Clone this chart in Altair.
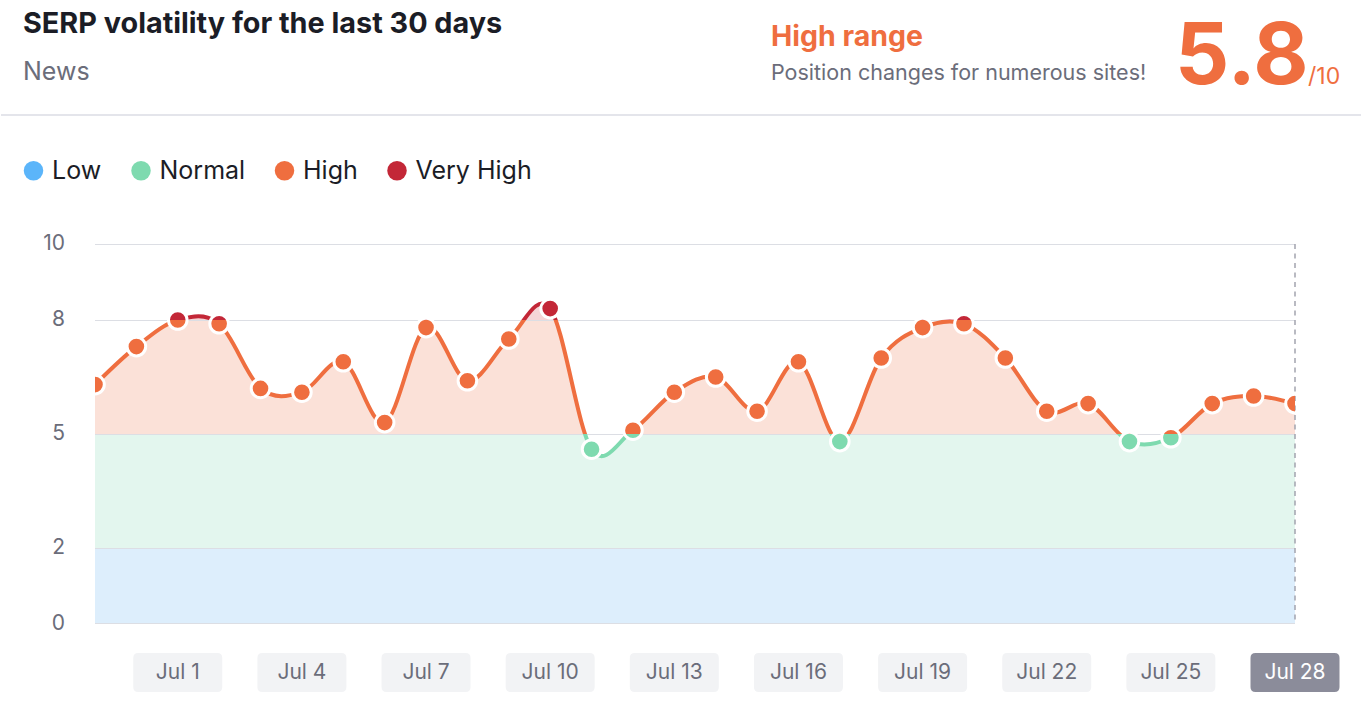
import altair as alt
import pandas as pd

# ---------------- data ----------------
days = ["Jun 29", "Jun 30", "Jul 1", "Jul 2", "Jul 3", "Jul 4", "Jul 5", "Jul 6",
        "Jul 7", "Jul 8", "Jul 9", "Jul 10", "Jul 11", "Jul 12", "Jul 13", "Jul 14",
        "Jul 15", "Jul 16", "Jul 17", "Jul 18", "Jul 19", "Jul 20", "Jul 21", "Jul 22",
        "Jul 23", "Jul 24", "Jul 25", "Jul 26", "Jul 27", "Jul 28"]
values = [6.3, 7.3, 8.0, 7.9, 6.2, 6.1, 6.9, 5.3, 7.8, 6.4, 7.5, 8.3, 4.6, 5.1, 6.1,
          6.5, 5.6, 6.9, 4.8, 7.0, 7.8, 7.9, 7.0, 5.6, 5.8, 4.8, 4.9, 5.8, 6.0, 5.8]
tick_labels = ["Jul 1", "Jul 4", "Jul 7", "Jul 10", "Jul 13", "Jul 16", "Jul 19",
               "Jul 22", "Jul 25", "Jul 28"]
legend_cats = ["Low", "Normal", "High", "Very High"]
legend_colors = ["#5BB5FA", "#7EDAAF", "#EF6E3F", "#C32737"]
band_fills = ["#DDEEFC", "#E3F6EE", "#FBE1D8", "#F5D5D7"]
band_limits = [0, 2, 5, 8, 10]

title_text = "SERP volatility for the last 30 days"
subtitle_text = "News"
range_text = "High range"
range_desc = "Position changes for numerous sites!"
score_text = "5.8"
score_max = "/10"

# ---------------- styles ----------------
FONT = "Inter"
U = 38          # pixels per unit on the y axis
W = 1200        # plot width
GRID = "#DCDEE4"
AXIS_TXT = "#6B6D7A"
DARK = "#1B1D26"

df = pd.DataFrame({"day": days, "idx": list(range(len(days))), "value": values})
last_idx = len(days) - 1

xscale = alt.Scale(domain=[0, last_idx], nice=False, zero=False)
xenc = alt.X("idx:Q", scale=xscale, axis=None)


def band_panel(k):
    lo, hi = band_limits[k], band_limits[k + 1]
    line_color = legend_colors[k]
    fill_color = band_fills[k]
    yscale = alt.Scale(domain=[lo, hi], nice=False, zero=False)
    yenc = alt.Y("value:Q", scale=yscale, axis=None)
    base = alt.Chart(df)

    area = base.mark_area(interpolate="cardinal", color=fill_color, opacity=1,
                          clip=True).encode(x=xenc, y=yenc)

    gvals = [hi, lo] if k == 0 else [hi]
    gdf = pd.DataFrame({"v": gvals})
    grid = alt.Chart(gdf).mark_rule(color=GRID, strokeWidth=2, clip=True).encode(
        y=alt.Y("v:Q", scale=yscale, axis=None))

    lab = alt.Chart(gdf).mark_text(align="right", baseline="middle", fontSize=21,
                                   font=FONT, color=AXIS_TXT).encode(
        x=alt.value(-30), y=alt.Y("v:Q", scale=yscale, axis=None), text=alt.Text("v:Q"))

    cur = df.tail(1)
    dash = alt.Chart(cur).mark_rule(color="#A3A4AE", strokeWidth=1.5,
                                    strokeDash=[5, 4.5]).encode(x=xenc)

    line = base.mark_line(interpolate="cardinal", color=line_color, strokeWidth=4,
                          strokeCap="round", clip=True).encode(x=xenc, y=yenc)
    pts = base.mark_circle(size=346, fill=line_color, stroke="white", strokeWidth=3,
                           opacity=1, clip=True).encode(x=xenc, y=yenc)
    return alt.layer(area, grid, lab, dash, line, pts).properties(
        width=W, height=(hi - lo) * U)


def text_layer(s, x, y, size, color, weight="normal", align="left"):
    return alt.Chart(pd.DataFrame({"t": [s]})).mark_text(
        align=align, baseline="alphabetic", fontSize=size, font=FONT,
        fontWeight=weight, color=color).encode(
        x=alt.value(x), y=alt.value(y), text="t:N")


ORANGE = legend_colors[2]
header = alt.layer(
    text_layer(title_text, -72, 33, 28.8, DARK, "bold"),
    text_layer(subtitle_text, -72, 80, 25, AXIS_TXT),
    text_layer(range_text, 676, 46, 28.5, ORANGE, "bold"),
    text_layer(range_desc, 676, 80, 21.5, AXIS_TXT),
    text_layer(score_text, 1080, 84, 85, ORANGE, "bold"),
    text_layer(score_max, 1213, 84, 23, ORANGE),
    alt.Chart(pd.DataFrame({"a": [0]})).mark_rule(color="#E4E5EB", strokeWidth=2).encode(
        x=alt.value(-94), x2=alt.value(1266), y=alt.value(115)),
    alt.Chart(pd.DataFrame({"cat": legend_cats})).mark_circle(opacity=0).encode(
        x=alt.value(600), y=alt.value(200),
        color=alt.Color("cat:N", scale=alt.Scale(domain=legend_cats, range=legend_colors),
                        legend=alt.Legend(orient="none", legendX=-74, legendY=158,
                                          direction="horizontal", title=None,
                                          symbolType="circle", symbolSize=380,
                                          symbolOpacity=1, symbolStrokeWidth=0,
                                          labelFont=FONT, labelFontSize=25,
                                          labelColor=DARK, labelOffset=6,
                                          columnPadding=26.5, padding=0))),
).properties(width=W, height=244)

BOX = ("M -0.888 -0.438 L 0.888 -0.438 Q 1 -0.438 1 -0.326 L 1 0.326 "
       "Q 1 0.438 0.888 0.438 L -0.888 0.438 Q -1 0.438 -1 0.326 L -1 -0.326 "
       "Q -1 -0.438 -0.888 -0.438 Z")
tdf = pd.DataFrame({"label": tick_labels,
                    "idx": [days.index(t) for t in tick_labels]})
tdf["current"] = tdf["label"] == days[-1]
boxes = alt.Chart(tdf).mark_point(shape=BOX, size=89 * 89, filled=True, opacity=1,
                                  strokeWidth=0).encode(
    x=xenc, y=alt.value(48.5),
    fill=alt.condition("datum.current", alt.value("#8B8C9A"), alt.value("#F2F3F5")))
btxt = alt.Chart(tdf).mark_text(fontSize=21, font=FONT, baseline="middle").encode(
    x=xenc, y=alt.value(49), text="label:N",
    color=alt.condition("datum.current", alt.value("#FFFFFF"), alt.value(AXIS_TXT)))
labels_panel = alt.layer(boxes, btxt).properties(width=W, height=100)

panels = [band_panel(k) for k in reversed(range(len(band_limits) - 1))]
chart = alt.vconcat(header, *panels, labels_panel, spacing=0, bounds="flush").properties(
    padding=0).configure(font=FONT, view=alt.ViewConfig(stroke=None))

chart.save("out.html", embed_options={"renderer": "svg", "actions": False})
